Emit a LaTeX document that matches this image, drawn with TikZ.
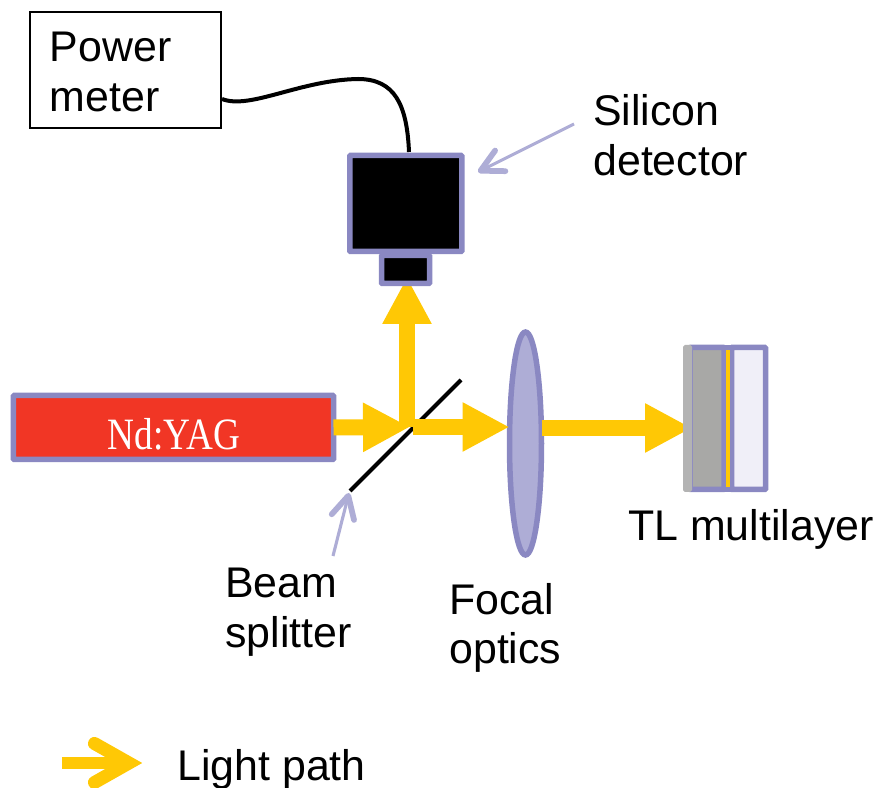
\documentclass[tikz,border=0pt]{standalone}
\usepackage{fontspec}
\setmainfont{Liberation Sans}
\newfontfamily\laserfont[FakeStretch=0.83]{Liberation Serif}
\usetikzlibrary{arrows.meta,positioning,calc,shapes.geometric}
\definecolor{RigFrame}{RGB}{138,136,194}
\definecolor{RigPale}{RGB}{174,173,214}
\definecolor{RigBeam}{RGB}{255,200,5}
\definecolor{RigLaser}{RGB}{241,54,37}
\definecolor{RigGray}{RGB}{168,168,166}
\definecolor{RigGrayLight}{RGB}{179,179,179}
\definecolor{RigGlass}{RGB}{240,239,248}
\tikzset{
  x=0.2mm, y=-0.2mm,
  part/.style={draw=RigFrame, line width=1.1mm, rounded corners=0.4pt, inner sep=0pt, outer sep=0pt},
  beam/.style={-{Triangle[length=9.4mm, width=9.2mm]}, line width=3.2mm, RigBeam},
  pointer/.style={-{Straight Barb[length=4.4mm, width=4.6mm, line width=1.15mm, round]}, line width=0.62mm, RigPale},
  legendbeam/.style={line width=2.4mm, RigBeam},
  legendhead/.style={line width=2.6mm, RigBeam, line cap=round, miter limit=10},
  rotulo/.style={font=\fontsize{24.4}{28.2}\selectfont, align=left, anchor=base west, inner sep=0pt},
}
\begin{document}
\begin{tikzpicture}
  \useasboundingbox (0,0) rectangle (875,788);
  \fill[white] (0,0) rectangle (875,788);

  % Instruments
  \node[draw=black, line width=0.4mm, minimum width=38.2mm, minimum height=23.2mm, inner sep=0pt, outer sep=0pt] (power) at (125.5,70.5) {};
  \node[rotulo] (powerlabel) at (49.5,111.5) {Power\\meter};
  \node[part, fill=black, minimum width=22.4mm, minimum height=19.2mm] (detector) at (405.8,203.5) {};
  \node[part, fill=RigLaser, minimum width=64mm, minimum height=12.8mm] (laser) at (173.5,427.5) {};
  \node[text=white, font=\laserfont\fontsize{25.5}{28}\selectfont, inner sep=0pt] (laserlabel) at (174,434) {Nd:YAG};

  % Caminho da luz
  \coordinate (splitin) at (410,427);
  \coordinate (splitout) at (413,427);
  \coordinate (splitup) at (407,427);
  \coordinate (splitlow) at (350,491);
  \coordinate (splithigh) at (461,380);
  \coordinate (sensortip) at (407,277);
  \draw[beam] (laser.east) -- (splitin);
  \draw[line width=0.8mm, black] (splitlow) -- (splithigh);
  \node[part, ellipse, fill=RigPale, minimum width=6.4mm, minimum height=44.6mm] (lens) at (525.5,443.5) {};
  \draw[beam] (splitout) -- (splitout -| lens.west);
  \draw[beam] (splitup) -- (sensortip);
  \node[part, fill=black, minimum width=9.6mm, minimum height=5.6mm] (sensor) at (405.5,269.5) {};

  % Amostra
  \node[part, fill=RigGray, minimum width=6.8mm, minimum height=28.4mm] (layerback) at (707,418.5) {};
  \node[part, fill=RigGlass, minimum width=6.8mm, minimum height=28.4mm] (layerfront) at (748.5,418.5) {};
  \fill[RigFrame] (layerback.north east) rectangle (layerfront.south west);
  \draw[RigFrame, line width=1.1mm] (layerback.north east) -- (layerfront.north west) (layerback.south east) -- (layerfront.south west);
  \fill[RigBeam] (726,350) rectangle (729.5,487);
  \coordinate (lensout) at (542,428);
  \coordinate (coatingtip) at (692,428);
  \draw[beam] (lensout) -- (coatingtip);
  \node[fill=RigGrayLight, rounded corners=1pt, minimum width=1.8mm, minimum height=29.4mm, inner sep=0pt, outer sep=0pt] (coating) at (687.5,418.5) {};

  % Cabo
  \coordinate (wirestart) at (222,99);
  \coordinate (wireend) at (409,152);
  \draw[line width=0.8mm, black] (wirestart) .. controls (250,110) and (300,80) .. (358,79) .. controls (395,79) and (407,105) .. (wireend);

  % Rotulos e setas
  \node[rotulo] (detlabel) at (593,175.5) {Silicon\\detector};
  \coordinate (dettail) at (574,124);
  \coordinate (dettip) at (478,172);
  \draw[pointer] (dettail) -- (dettip);
  \node[rotulo] (splitlabel) at (225,647.5) {Beam\\splitter};
  \coordinate (splittail) at (333,556);
  \coordinate (splittip) at (349,493);
  \draw[pointer] (splittail) -- (splittip);
  \node[rotulo] (lenslabel) at (449,664) {Focal\\optics};
  \node[rotulo] (samplelabel) at (628,541) {TL multilayer};

  % Legenda
  \coordinate (legendtail) at (62,763);
  \coordinate (legendtip) at (129,763);
  \coordinate (legendup) at (94.5,743.5);
  \coordinate (legenddown) at (94.5,782.5);
  \draw[legendbeam] (legendtail) -- (legendtip);
  \draw[legendhead] (legendup) -- (legendtip) -- (legenddown);
  \node[rotulo] (legendlabel) at (177,781) {Light path};
\end{tikzpicture}
\end{document}
